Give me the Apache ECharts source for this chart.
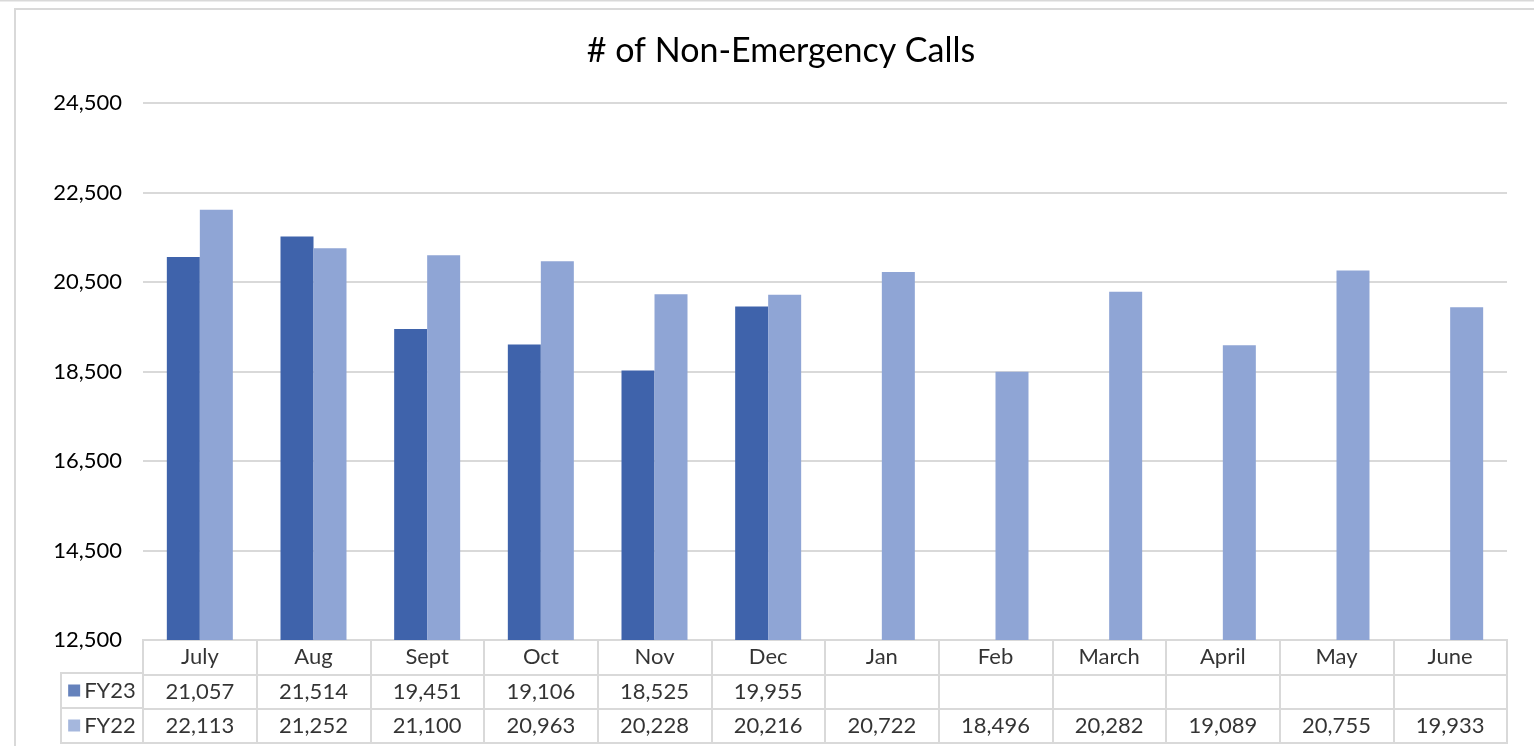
<!DOCTYPE html>
<html><head><meta charset="utf-8">
<script src="https://cdn.jsdelivr.net/npm/echarts@6/dist/echarts.min.js"></script>
<style>html,body{margin:0;padding:0;background:#fff}#c{width:1534px;height:746px}</style>
</head><body><div id="c"></div>
<script>
const titleText = '# of Non-Emergency Calls';
const months = ['July','Aug','Sept','Oct','Nov','Dec','Jan','Feb','March','April','May','June'];
const fy23 = [21057,21514,19451,19106,18525,19955,null,null,null,null,null,null];
const fy22 = [22113,21252,21100,20963,20228,20216,20722,18496,20282,19089,20755,19933];
const seriesNames = ['FY23','FY22'];
const yMin = 12500, yMax = 24500, yStep = 2000;
const colors = ['#3F63AB','#8FA5D5'];

const FONT = 'Lato';
const FS = 22;
const lineCol = '#d9d9d9';
const fmt = v => v == null ? '' : v.toLocaleString('en-US');

const tableText = [];
months.forEach((m, i) => tableText.push([i, 0, m]));
fy23.forEach((v, i) => { if (v != null) tableText.push([i, 1, fmt(v)]); });
fy22.forEach((v, i) => { if (v != null) tableText.push([i, 2, fmt(v)]); });

const legendText = seriesNames.map((n, i) => [0, i, n]);

const chart = echarts.init(document.getElementById('c'), null, {renderer: 'canvas'});
chart.setOption({
  animation: false,
  backgroundColor: '#fff',
  textStyle: {fontFamily: FONT},
  title: {
    text: titleText, left: 776, top: 29, textAlign: 'center',
    textStyle: {fontFamily: FONT, fontSize: 34, fontWeight: 'normal', color: '#000'}
  },
  graphic: [
    {type: 'rect', silent: true, shape: {x: 15, y: 9, width: 1600, height: 800},
     style: {fill: 'none', stroke: lineCol, lineWidth: 2}},
    {type: 'line', silent: true, shape: {x1: 0, y1: 0.5, x2: 1534, y2: 0.5},
     style: {stroke: lineCol, lineWidth: 2}}
  ],
  grid: [
    {left: 143, right: 27, top: 103, bottom: 106},
    {left: 143, right: 27, top: 640, bottom: 3, show: true, borderColor: lineCol, borderWidth: 2},
    {left: 61, right: 1391, top: 673, bottom: 3, show: true, borderColor: lineCol, borderWidth: 2}
  ],
  xAxis: [
    {type: 'category', gridIndex: 0, data: months, axisLine: {show: false}, axisTick: {show: false}, axisLabel: {show: false}},
    {type: 'category', gridIndex: 1, data: months, axisLine: {show: false}, axisTick: {show: false}, axisLabel: {show: false},
     splitLine: {show: true, interval: 0, lineStyle: {color: lineCol, width: 2}}},
    {type: 'category', gridIndex: 2, data: [''], show: false}
  ],
  yAxis: [
    {type: 'value', gridIndex: 0, min: yMin, max: yMax, interval: yStep,
     axisLine: {show: false}, axisTick: {show: false},
     axisLabel: {fontSize: FS, color: '#000', fontFamily: FONT, margin: 21, formatter: v => fmt(v)},
     splitLine: {lineStyle: {color: lineCol, width: 2}}},
    {type: 'category', gridIndex: 1, inverse: true, data: ['hdr'].concat(seriesNames),
     axisLine: {show: false}, axisTick: {show: false}, axisLabel: {show: false},
     splitLine: {show: true, interval: 0, lineStyle: {color: lineCol, width: 2}}},
    {type: 'category', gridIndex: 2, inverse: true, data: seriesNames,
     axisLine: {show: false}, axisTick: {show: false}, axisLabel: {show: false},
     splitLine: {show: true, interval: 0, lineStyle: {color: lineCol, width: 2}}}
  ],
  series: [
    {name: seriesNames[0], type: 'bar', xAxisIndex: 0, yAxisIndex: 0, data: fy23,
     barWidth: 33, barGap: '0%', itemStyle: {color: colors[0]}},
    {name: seriesNames[1], type: 'bar', xAxisIndex: 0, yAxisIndex: 0, data: fy22,
     barWidth: 33, barGap: '0%', itemStyle: {color: colors[1]}},
    {type: 'scatter', xAxisIndex: 1, yAxisIndex: 1, data: tableText, symbolSize: 1, silent: true,
     itemStyle: {color: 'rgba(0,0,0,0)'},
     label: {show: true, position: 'inside', color: '#000', fontSize: FS, fontFamily: FONT,
       formatter: p => p.value[2]}},
    {type: 'scatter', xAxisIndex: 2, yAxisIndex: 2, data: legendText, symbolSize: 1, silent: true,
     itemStyle: {color: 'rgba(0,0,0,0)'},
     label: {show: true, position: 'inside', color: '#000', fontSize: FS, fontFamily: FONT,
       formatter: p => '{s' + p.dataIndex + '|}{t|' + p.value[2] + '}',
       rich: {
         s0: {width: 12, height: 12, backgroundColor: colors[0]},
         s1: {width: 12, height: 12, backgroundColor: colors[1]},
         t: {fontSize: FS, fontFamily: FONT, color: '#000', padding: [0, 0, 0, 4]}
       }}}
  ]
});
</script></body></html>
